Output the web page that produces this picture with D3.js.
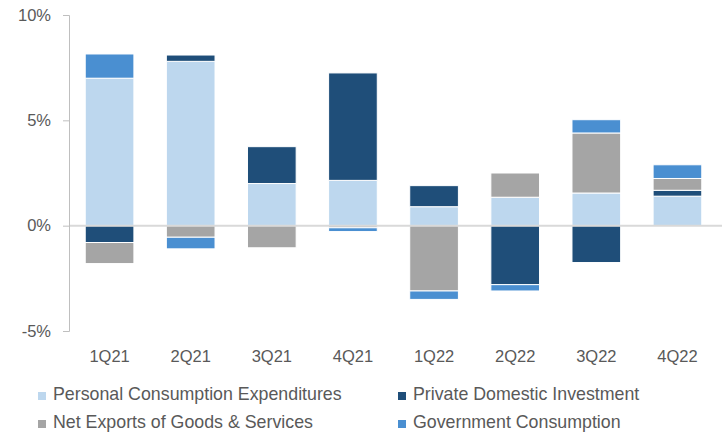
<!DOCTYPE html>
<html>
<head>
<meta charset="utf-8">
<script src="https://cdn.jsdelivr.net/npm/d3@7"></script>
<style>
  body { margin: 0; background: #fff; }
  text { font-family: "Liberation Sans", Arial, sans-serif; fill: #595959; }
</style>
</head>
<body>
<script>
// size variables
var width = 722, height = 435;

// data (contribution to GDP growth, %)
var quarters = ["1Q21", "2Q21", "3Q21", "4Q21", "1Q22", "2Q22", "3Q22", "4Q22"];
var pce = [7.0, 7.8, 2.0, 2.15, 0.9, 1.35, 1.55, 1.4];
var pdi = [-0.8, 0.3, 1.75, 5.1, 1.0, -2.8, -1.75, 0.28];
var nx = [-1.0, -0.55, -1.05, -0.1, -3.1, 1.15, 2.85, 0.56];
var gov = [1.15, -0.55, 0, -0.18, -0.4, -0.3, 0.63, 0.65];
var yTicks = [-5, 0, 5, 10];

var seriesNames = ["Personal Consumption Expenditures", "Private Domestic Investment",
                   "Net Exports of Goods & Services", "Government Consumption"];
var keys = ["pce", "pdi", "nx", "gov"];
var colors = ["#bdd7ee", "#1f4e79", "#a5a5a5", "#4a8fd1"];

// table for d3.stack
var table = quarters.map(function(q, i) {
    return { q: q, pce: pce[i], pdi: pdi[i], nx: nx[i], gov: gov[i] };
});

var svg = d3.select('body').append('svg').attr('width', width).attr('height', height);

var x = d3.scaleBand().domain(quarters).range([69, 718]).paddingInner(0.4).paddingOuter(0.2);
var y = d3.scaleLinear().domain([-5, 10]).range([331, 15]);
var col = d3.scaleOrdinal().domain(keys).range(colors);

var stacked = d3.stack().keys(keys).offset(d3.stackOffsetDiverging)(table);

// bars
svg.append('g').selectAll('g')
    .data(stacked)
    .join('g')
    .attr('fill', function(d) { return col(d.key); })
    .selectAll('rect')
    .data(function(d) { return d; })
    .join('rect')
    .attr('x', function(d) { return x(d.data.q); })
    .attr('y', function(d) { return y(Math.max(d[0], d[1])); })
    .attr('width', x.bandwidth())
    .attr('height', function(d) { return Math.abs(y(d[0]) - y(d[1])); })
    .attr('stroke', '#fff')
    .attr('stroke-width', 1);

// zero line
svg.append('line')
    .attr('x1', 69).attr('x2', 722)
    .attr('y1', y(0)).attr('y2', y(0))
    .attr('stroke', '#d9d9d9').attr('stroke-width', 2);

// y axis
var yAxis = svg.append('g')
    .attr('transform', 'translate(69,0)')
    .call(d3.axisLeft(y).tickValues(yTicks).tickSize(6).tickPadding(12)
        .tickFormat(function(d) { return d + '%'; }));
yAxis.select('.domain').attr('stroke', '#bfbfbf');
yAxis.selectAll('.tick line').attr('stroke', '#bfbfbf');
yAxis.selectAll('text').attr('font-size', '16.5px').attr('fill', '#595959')
    .attr('font-family', '"Liberation Sans", Arial, sans-serif');

// x labels
var xAxis = svg.append('g')
    .attr('transform', 'translate(0,345)')
    .call(d3.axisBottom(x).tickSize(0).tickPadding(5));
xAxis.select('.domain').remove();
xAxis.selectAll('text').attr('font-size', '16.5px').attr('fill', '#595959')
    .attr('font-family', '"Liberation Sans", Arial, sans-serif');

// legend
var legendPos = [[38, 400], [398, 400], [38, 428], [398, 428]];
var legend = svg.append('g').selectAll('g')
    .data(keys)
    .join('g')
    .attr('transform', function(d, i) { return 'translate(' + legendPos[i][0] + ',' + legendPos[i][1] + ')'; });
legend.append('rect')
    .attr('x', 0).attr('y', -8).attr('width', 8).attr('height', 8)
    .attr('fill', function(d) { return col(d); });
legend.append('text')
    .attr('x', 15).attr('y', 0)
    .attr('font-size', '17.8px')
    .text(function(d, i) { return seriesNames[i]; });
</script>
</body>
</html>
